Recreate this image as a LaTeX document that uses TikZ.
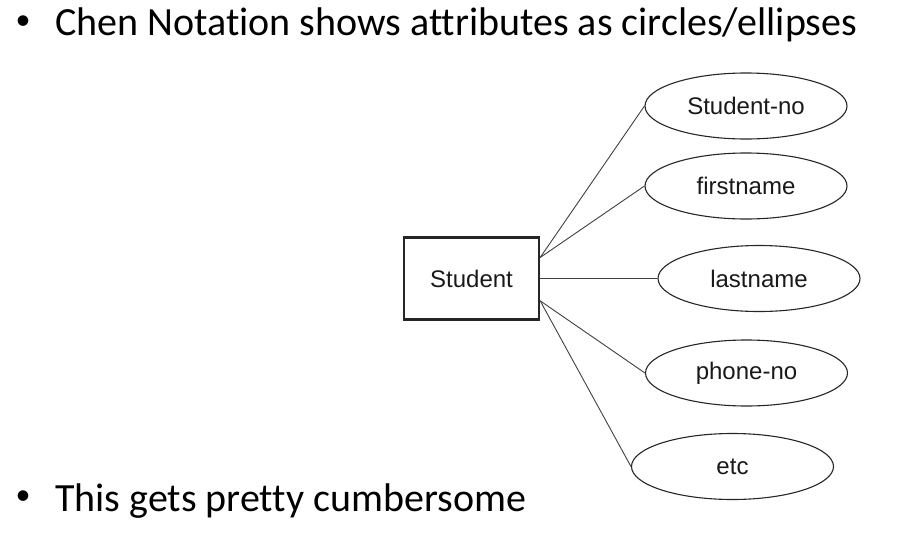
\documentclass[tikz,border=0pt]{standalone}
\usepackage{fontspec}
\setmainfont{Carlito}[Ligatures=NoCommon]
\newfontfamily\hvfont{Liberation Sans}
\usetikzlibrary{shapes.geometric}
\tikzset{
  bullettext/.style={inner sep=0pt, anchor=base west, font=\fontsize{40}{46}\selectfont},
  bulletmark/.style={inner sep=0pt, anchor=center, font=\fontsize{30}{36}\selectfont},
  entity/.style={draw=black!85, line width=2.3pt, minimum width=135pt, minimum height=82pt, inner sep=0pt, font=\hvfont\fontsize{24}{28}\selectfont, text=black!90},
  attr/.style={ellipse, draw=black!85, line width=1.1pt, minimum width=202pt, minimum height=66pt, inner sep=0pt, font=\hvfont\fontsize{24}{28}\selectfont, text=black!90},
  conn/.style={draw=black!75, line width=0.9pt}
}
\begin{document}
\begin{tikzpicture}[x=1pt,y=-1pt]
\useasboundingbox (0,0) rectangle (911,536);
\node[bulletmark] (b1) at (23,23) {•};
\node[bullettext] (t1) at (55,35) {Chen Notation shows attributes as circles/ellipses};
\node[bulletmark] (b2) at (23,498) {•};
\node[bullettext] (t2) at (55,511) {This gets pretty cumbersome};

\node[entity] (S) at (471.5,278.5) {Student};
\node[attr] (a1) at (746,106) {Student-no};
\node[attr] (a2) at (746,186) {firstname};
\node[attr] (a3) at (759,278.5) {lastname};
\node[attr] (a4) at (746.5,373) {phone-no};
\node[attr] (a5) at (732.5,466.5) {etc};

\draw[conn] (S.17) -- (a1.west);
\draw[conn] (S.17) -- (a2.west);
\draw[conn] (S.east) -- (a3.west);
\draw[conn] (S.-18) -- (a4.west);
\draw[conn] (S.-18) -- (a5.west);
\end{tikzpicture}
\end{document}
